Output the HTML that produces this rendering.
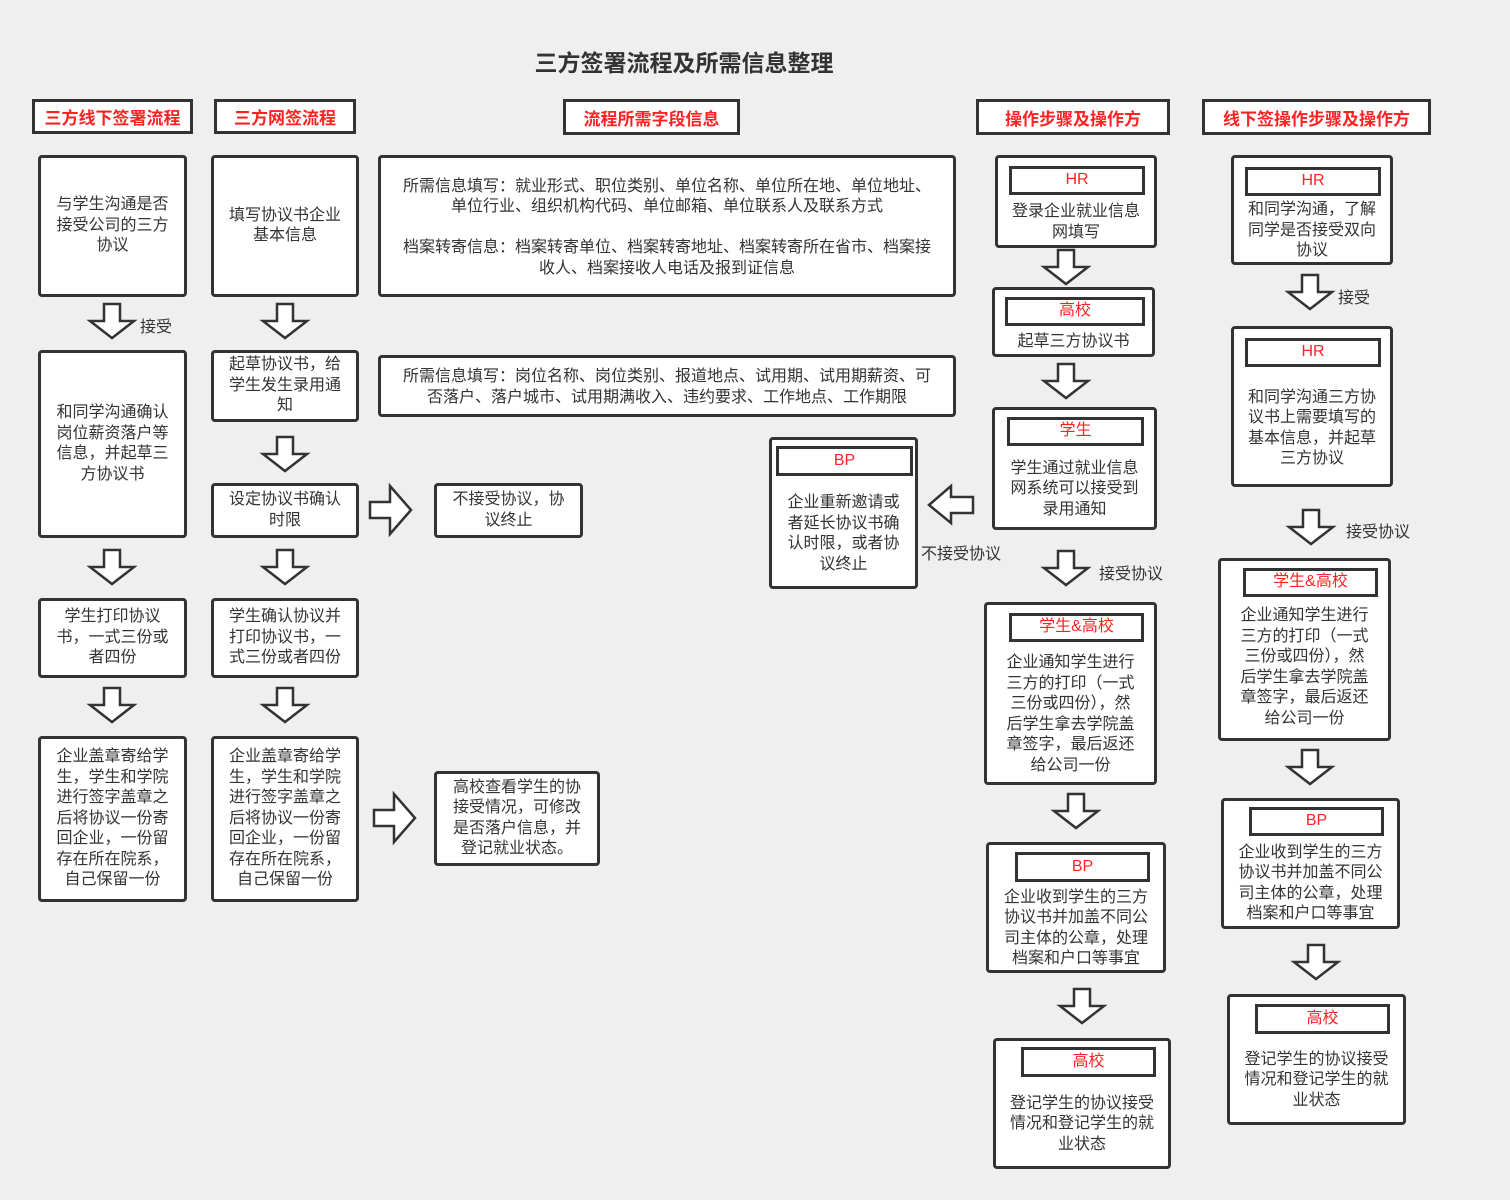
<!DOCTYPE html>
<html><head><meta charset="utf-8"><style>
body{margin:0;width:1510px;height:1200px;background:#efefef;position:relative;overflow:hidden;font-family:"Liberation Sans","Noto Sans CJK SC",sans-serif;color:#333;}
.b{position:absolute;box-sizing:border-box;background:#fff;border:3px solid #333;border-radius:4px;display:flex;align-items:center;justify-content:center;text-align:center;font-size:16px;line-height:20.5px;}
.h{position:absolute;box-sizing:border-box;background:#fff;border:3px solid #333;display:flex;align-items:center;justify-content:center;color:#f22;font-weight:bold;font-size:17px;}
.t{position:absolute;box-sizing:border-box;background:#fff;border:3px solid #333;border-radius:4px;text-align:center;font-size:16px;line-height:20.5px;}
.t .l{position:absolute;box-sizing:border-box;border:3px solid #333;color:#f22;display:flex;align-items:center;justify-content:center;font-size:16px;}
.t .x{position:absolute;left:0;right:0;display:flex;align-items:center;justify-content:center;}
.lb{position:absolute;font-size:16px;}
svg{position:absolute;left:0;top:0;}
</style></head><body>
<div style="position:absolute;left:0;width:1368px;top:44px;text-align:center;font-size:23px;font-weight:bold;color:#333">三方签署流程及所需信息整理</div>
<div class="h" style="left:32px;top:99px;width:161px;height:35px">三方线下签署流程</div>
<div class="h" style="left:214px;top:99px;width:142px;height:35px">三方网签流程</div>
<div class="h" style="left:563px;top:99px;width:177px;height:36px">流程所需字段信息</div>
<div class="h" style="left:976px;top:99px;width:194px;height:36px">操作步骤及操作方</div>
<div class="h" style="left:1202px;top:99px;width:229px;height:36px">线下签操作步骤及操作方</div>

<div class="b" style="left:38px;top:155px;width:149px;height:142px">与学生沟通是否<br>接受公司的三方<br>协议</div>
<div class="b" style="left:38px;top:350px;width:149px;height:188px">和同学沟通确认<br>岗位薪资落户等<br>信息，并起草三<br>方协议书</div>
<div class="b" style="left:38px;top:598px;width:149px;height:80px">学生打印协议<br>书，一式三份或<br>者四份</div>
<div class="b" style="left:38px;top:736px;width:149px;height:166px">企业盖章寄给学<br>生，学生和学院<br>进行签字盖章之<br>后将协议一份寄<br>回企业，一份留<br>存在所在院系，<br>自己保留一份</div>

<div class="b" style="left:211px;top:155px;width:148px;height:142px">填写协议书企业<br>基本信息</div>
<div class="b" style="left:211px;top:350px;width:148px;height:72px">起草协议书，给<br>学生发生录用通<br>知</div>
<div class="b" style="left:211px;top:483px;width:148px;height:55px">设定协议书确认<br>时限</div>
<div class="b" style="left:211px;top:598px;width:148px;height:80px">学生确认协议并<br>打印协议书，一<br>式三份或者四份</div>
<div class="b" style="left:211px;top:736px;width:148px;height:166px">企业盖章寄给学<br>生，学生和学院<br>进行签字盖章之<br>后将协议一份寄<br>回企业，一份留<br>存在所在院系，<br>自己保留一份</div>

<div class="b" style="left:434px;top:483px;width:149px;height:55px">不接受协议，协<br>议终止</div>
<div class="b" style="left:434px;top:771px;width:166px;height:95px">高校查看学生的协<br>接受情况，可修改<br>是否落户信息，并<br>登记就业状态。</div>

<div class="b" style="left:378px;top:155px;width:578px;height:142px;flex-direction:column;padding-top:4px">所需信息填写：就业形式、职位类别、单位名称、单位所在地、单位地址、<br>单位行业、组织机构代码、单位邮箱、单位联系人及联系方式<br><br>档案转寄信息：档案转寄单位、档案转寄地址、档案转寄所在省市、档案接<br>收人、档案接收人电话及报到证信息</div>
<div class="b" style="left:378px;top:355px;width:578px;height:62px;padding-top:3px">所需信息填写：岗位名称、岗位类别、报道地点、试用期、试用期薪资、可<br>否落户、落户城市、试用期满收入、违约要求、工作地点、工作期限</div>

<div class="t" style="left:995px;top:155px;width:162px;height:93px"><div class="l" style="left:11px;top:8px;width:136px;height:29px">HR</div><div class="x" style="top:42px;bottom:0px">登录企业就业信息<br>网填写</div></div>
<div class="t" style="left:992px;top:287px;width:163px;height:70px"><div class="l" style="left:10px;top:7px;width:140px;height:29px">高校</div><div class="x" style="top:41px;bottom:0px">起草三方协议书</div></div>
<div class="t" style="left:992px;top:407px;width:165px;height:123px"><div class="l" style="left:12px;top:7px;width:137px;height:29px">学生</div><div class="x" style="top:42px;bottom:0px">学生通过就业信息<br>网系统可以接受到<br>录用通知</div></div>
<div class="t" style="left:769px;top:437px;width:149px;height:152px"><div class="l" style="left:4px;top:6px;width:137px;height:30px">BP</div><div class="x" style="top:42px;bottom:0px">企业重新邀请或<br>者延长协议书确<br>认时限，或者协<br>议终止</div></div>
<div class="t" style="left:984px;top:602px;width:173px;height:183px"><div class="l" style="left:22px;top:8px;width:135px;height:29px">学生&amp;高校</div><div class="x" style="top:42px;bottom:0px">企业通知学生进行<br>三方的打印（一式<br>三份或四份），然<br>后学生拿去学院盖<br>章签字，最后返还<br>给公司一份</div></div>
<div class="t" style="left:986px;top:842px;width:180px;height:131px"><div class="l" style="left:26px;top:7px;width:135px;height:30px">BP</div><div class="x" style="top:42px;bottom:0px">企业收到学生的三方<br>协议书并加盖不同公<br>司主体的公章，处理<br>档案和户口等事宜</div></div>
<div class="t" style="left:993px;top:1038px;width:178px;height:131px"><div class="l" style="left:25px;top:6px;width:135px;height:30px">高校</div><div class="x" style="top:42px;bottom:0px">登记学生的协议接受<br>情况和登记学生的就<br>业状态</div></div>

<div class="t" style="left:1231px;top:155px;width:162px;height:110px"><div class="l" style="left:11px;top:9px;width:136px;height:29px">HR</div><div class="x" style="top:42px;bottom:0px">和同学沟通，了解<br>同学是否接受双向<br>协议</div></div>
<div class="t" style="left:1231px;top:326px;width:162px;height:161px"><div class="l" style="left:11px;top:9px;width:136px;height:29px">HR</div><div class="x" style="top:44px;bottom:0px">和同学沟通三方协<br>议书上需要填写的<br>基本信息，并起草<br>三方协议</div></div>
<div class="t" style="left:1218px;top:558px;width:173px;height:183px"><div class="l" style="left:22px;top:7px;width:135px;height:29px">学生&amp;高校</div><div class="x" style="top:42px;bottom:6px">企业通知学生进行<br>三方的打印（一式<br>三份或四份），然<br>后学生拿去学院盖<br>章签字，最后返还<br>给公司一份</div></div>
<div class="t" style="left:1221px;top:798px;width:179px;height:131px"><div class="l" style="left:25px;top:6px;width:135px;height:29px">BP</div><div class="x" style="top:40px;bottom:0px">企业收到学生的三方<br>协议书并加盖不同公<br>司主体的公章，处理<br>档案和户口等事宜</div></div>
<div class="t" style="left:1227px;top:994px;width:179px;height:131px"><div class="l" style="left:25px;top:7px;width:135px;height:30px">高校</div><div class="x" style="top:42px;bottom:0px">登记学生的协议接受<br>情况和登记学生的就<br>业状态</div></div>

<div class="lb" style="left:140px;top:313px">接受</div>
<div class="lb" style="left:921px;top:540px">不接受协议</div>
<div class="lb" style="left:1099px;top:560px">接受协议</div>
<div class="lb" style="left:1338px;top:284px">接受</div>
<div class="lb" style="left:1346px;top:518px">接受协议</div>

<svg width="1510" height="1200">
<g fill="#fff" stroke="#333" stroke-width="2.5" stroke-linejoin="miter">
<defs><polygon id="d" points="-8,0 8,0 8,17 22,17 0,34 -22,17 -8,17"/></defs>
<use href="#d" x="112" y="304"/><use href="#d" x="112" y="550"/><use href="#d" x="112" y="688"/>
<use href="#d" x="285" y="304"/><use href="#d" x="285" y="437"/><use href="#d" x="285" y="550"/><use href="#d" x="285" y="688"/>
<use href="#d" x="1066" y="250"/><use href="#d" x="1066" y="364"/><use href="#d" x="1066" y="551"/><use href="#d" x="1076" y="794"/><use href="#d" x="1082" y="989"/>
<use href="#d" x="1310" y="275"/><use href="#d" x="1311" y="510"/><use href="#d" x="1310" y="750"/><use href="#d" x="1316" y="945"/>
<polygon points="370,502 390,502 390,486 411,510 390,534 390,518 370,518"/>
<polygon points="374,810 394,810 394,794 415,818 394,842 394,826 374,826"/>
<polygon points="973,497 951,497 951,486 929,505 951,523 951,513 973,513"/>
</g></svg>
</body></html>
